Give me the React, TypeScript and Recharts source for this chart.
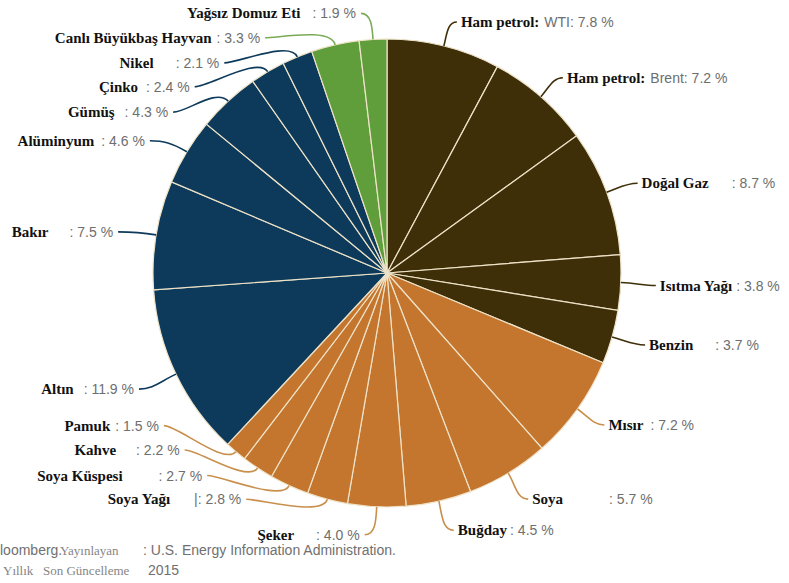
import React from 'react';
import { PieChart, Pie, Cell } from 'recharts';

const categories = [
  'Ham petrol: WTI', 'Ham petrol: Brent', 'Doğal Gaz', 'Isıtma Yağı', 'Benzin',
  'Mısır', 'Soya', 'Buğday', 'Şeker', 'Soya Yağı', 'Soya Küspesi', 'Kahve', 'Pamuk',
  'Altın', 'Bakır', 'Alüminyum', 'Gümüş', 'Çinko', 'Nikel',
  'Canlı Büyükbaş Hayvan', 'Yağsız Domuz Eti',
];

const shares = [7.8, 7.2, 8.7, 3.8, 3.7, 7.2, 5.7, 4.5, 4.0, 2.8, 2.7, 2.2, 1.5, 11.9, 7.5, 4.6, 4.3, 2.4, 2.1, 3.3, 1.9];

const sectors = [
  'Enerji', 'Enerji', 'Enerji', 'Enerji', 'Enerji',
  'Tarım', 'Tarım', 'Tarım', 'Tarım', 'Tarım', 'Tarım', 'Tarım', 'Tarım',
  'Metal', 'Metal', 'Metal', 'Metal', 'Metal', 'Metal',
  'Hayvancılık', 'Hayvancılık',
];

const valuePrefixes: Record<string, string> = { 'Soya Yağı': '|' };

const sectorColors: Record<string, string> = {
  'Enerji': '#3e2f08',
  'Tarım': '#c4762f',
  'Metal': '#0d3a5a',
  'Hayvancılık': '#5f9e3a',
};

const leaderColors: Record<string, string> = {
  'Enerji': '#3e2f08',
  'Tarım': '#c8904c',
  'Metal': '#0d3a5a',
  'Hayvancılık': '#79aa58',
};

// label layout: [dx, dy] from slice's outer mid point to leader end, gap between name and value
const labelLayout: [number, number, number][] = [
  [13, -24, 5], [22, -19, 5], [31, -9, 23], [35, 3, 4], [33, 8, 22],
  [27, 16, 7], [20, 26, 46], [15, 29, 3], [-12, 28, 22], [-81, 0, 24],
  [-82, -10, 36], [-73, -18, 20], [-72, -26, 5], [-37, 15, 10], [-38, -3, 21],
  [-37, -11, 7], [-55, 11, 10], [-73, 15, 8], [-73, 6, 22], [-70, -7, 5], [-12, -26, 12],
];

const data = categories.map((name, i) => ({ name, value: shares[i], sector: sectors[i] }));

const renderLabel = (props: any) => {
  const { cx, cy, midAngle, outerRadius, index } = props;
  const rad = (-midAngle * Math.PI) / 180;
  const ux = Math.cos(rad);
  const uy = Math.sin(rad);
  const ax = cx + outerRadius * ux;
  const ay = cy + outerRadius * uy;
  const [dx, dy, gap] = labelLayout[index];
  const ex = ax + dx;
  const ey = ay + dy;
  const left = dx < 0;
  const d = Math.hypot(dx, dy);
  const k1 = Math.min(d * 0.45, 18);
  const k2 = Math.min(d * 0.35, 14) * (left ? 1 : -1);
  const path = `M${ax},${ay} C${ax + ux * k1},${ay + uy * k1} ${ex + k2},${ey} ${ex},${ey}`;
  const color = leaderColors[sectors[index]];
  const name = categories[index];
  let bold = name;
  let extra = '';
  if (name.includes(': ')) {
    const parts = name.split(': ');
    bold = parts[0] + ':';
    extra = parts[1];
  }
  const prefix = valuePrefixes[name] || '';
  const valueText = extra
    ? `${extra}: ${shares[index].toFixed(1)} %`
    : `${prefix}: ${shares[index].toFixed(1)} %`;
  return (
    <g key={`lbl-${index}`}>
      <path d={path} stroke={color} strokeWidth={1.6} fill="none" />
      <text
        x={left ? ex - 5 : ex + 4}
        y={ey}
        textAnchor={left ? 'end' : 'start'}
        dominantBaseline="central"
      >
        <tspan fontFamily="'Liberation Serif', 'Times New Roman', serif" fontWeight="bold" fontSize={15} fill="#111">
          {bold}
        </tspan>
        <tspan dx={gap} fontFamily="'Liberation Sans', Arial, sans-serif" fontSize={14} fill="#6e6e6e">
          {valueText}
        </tspan>
      </text>
    </g>
  );
};

const sansGray: React.CSSProperties = {
  position: 'absolute', fontFamily: "'Liberation Sans', Arial, sans-serif", fontSize: 14, color: '#707070', whiteSpace: 'nowrap', lineHeight: '16px',
};
const serifGray: React.CSSProperties = {
  position: 'absolute', fontFamily: "'Liberation Serif', 'Times New Roman', serif", fontSize: 13, color: '#858585', whiteSpace: 'nowrap', lineHeight: '16px',
};

export default function App() {
  return (
    <div style={{ position: 'absolute', left: 0, top: 0, width: 789, height: 583, background: '#fff', overflow: 'hidden' }}>
      <PieChart width={789} height={583} margin={{ top: 0, right: 0, bottom: 0, left: 0 }}>
        <Pie
          data={data}
          dataKey="value"
          nameKey="name"
          cx={387}
          cy={273}
          outerRadius={234}
          startAngle={90}
          endAngle={-270}
          stroke="#eee3c8"
          strokeWidth={1.2}
          label={renderLabel}
          labelLine={false}
          isAnimationActive={false}
        >
          {data.map((d, i) => (
            <Cell key={i} fill={sectorColors[d.sector]} />
          ))}
        </Pie>
      </PieChart>
      <div style={{ ...sansGray, left: 0, top: 542 }}>loomberg.</div>
      <div style={{ ...serifGray, left: 60, top: 543 }}>Yayınlayan</div>
      <div style={{ ...sansGray, left: 143, top: 542 }}>: U.S. Energy Information Administration.</div>
      <div style={{ ...serifGray, left: 3, top: 563 }}>Yıllık</div>
      <div style={{ ...serifGray, left: 43, top: 563 }}>Son Güncelleme</div>
      <div style={{ ...sansGray, left: 148, top: 562 }}>2015</div>
    </div>
  );
}
